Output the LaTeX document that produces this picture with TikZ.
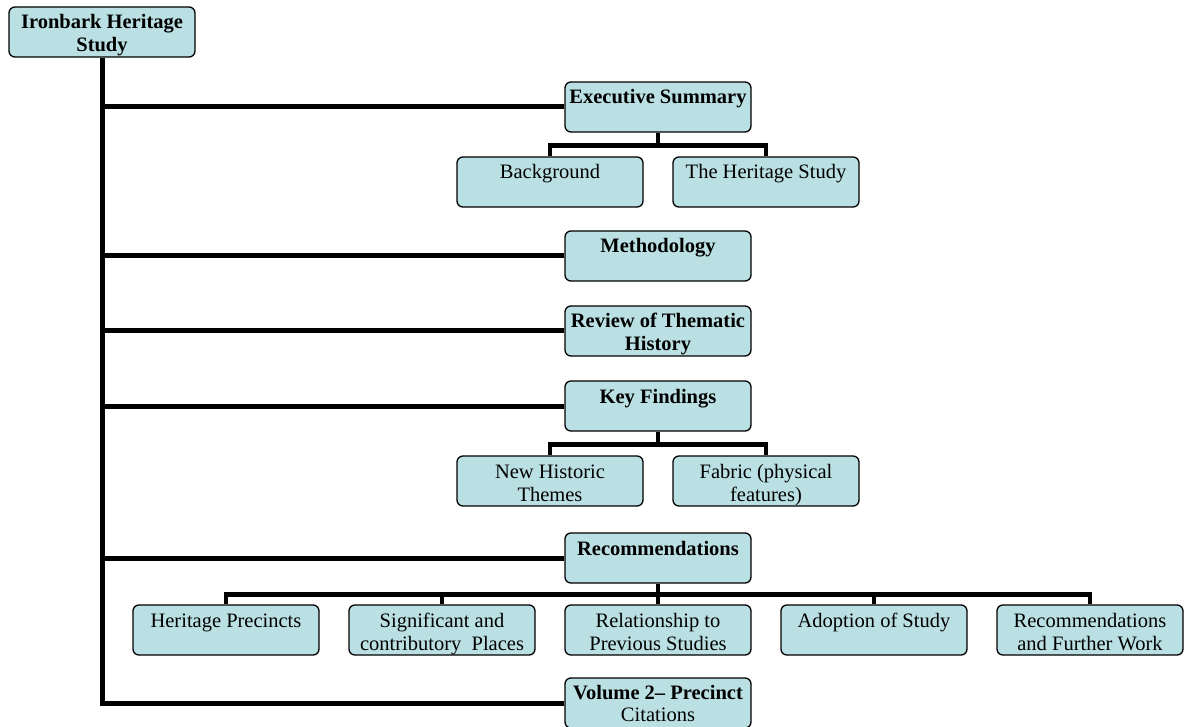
\documentclass[tikz,border=0pt]{standalone}
\usepackage{fontspec}
\setmainfont{Liberation Serif}
\usetikzlibrary{positioning}

\definecolor{boxfill}{RGB}{187,224,227}
% fixed-size box contents, text hangs from the top
\newcommand{\boxtext}[1]{\parbox[t][50pt][t]{186pt}{\centering\rule{0pt}{22pt}#1}}

\tikzset{
    part/.style={draw, fill=boxfill, rounded corners=6pt, line width=1.3pt,
        inner sep=0pt, font=\fontsize{20.5}{23}\selectfont},
    head/.style={part, font=\fontsize{20.5}{23}\selectfont\bfseries},
    trunk/.style={line width=5pt},
    twig/.style={line width=4.5pt}
}

\begin{document}
\begin{tikzpicture}[x=1pt,y=-1pt]
    \useasboundingbox (0,0) rectangle (1184,727);

    \node[head] (root) at (102,32) {\boxtext{Ironbark Heritage\\Study}};

    % main column
    \node[head] (exec)   at (658,107) {\boxtext{Executive Summary}};
    \node[head] (meth)   at (658,256) {\boxtext{Methodology}};
    \node[head] (review) at (658,331) {\boxtext{Review of Thematic\\History}};
    \node[head] (keyf)   at (658,406) {\boxtext{Key Findings}};
    \node[head] (recs)   at (658,558) {\boxtext{Recommendations}};
    \node[part] (vol)    at (658,703) {\parbox[t][50pt][t]{186pt}{\centering\rule{0pt}{21pt}{\bfseries Volume 2– Precinct}\\[-1pt]Citations}};

    \begin{scope}[on grid]
        \node[part, below left=75pt and 108pt of exec]  (backg) {\boxtext{Background}};
        \node[part, below right=75pt and 108pt of exec] (hstudy) {\boxtext{The Heritage Study}};
        \node[part, below left=75pt and 108pt of keyf]  (themes) {\boxtext{New Historic\\Themes}};
        \node[part, below right=75pt and 108pt of keyf] (fabric) {\boxtext{Fabric (physical\\features)}};

        \node[part, below=72pt of recs]      (relprev) {\boxtext{Relationship to\\Previous Studies}};
        \node[part, left=216pt of relprev]   (signif)  {\boxtext{Significant and\\contributory\ \ Places}};
        \node[part, left=216pt of signif]    (precin)  {\boxtext{Heritage Precincts}};
        \node[part, right=216pt of relprev]  (adopt)   {\boxtext{Adoption of Study}};
        \node[part, right=216pt of adopt]    (further) {\boxtext{Recommendations\\and Further Work}};
    \end{scope}

    % trunk and branches
    \draw[trunk] (root.south) -- (root.south |- vol.west) -- (vol.west);
    \foreach \n in {exec,meth,review,keyf,recs}
        \draw[trunk] (root.south |- \n.west) -- (\n.west);

    \foreach \c in {backg,hstudy}
        \draw[twig] (exec.south) -- ++(0,13) -| (\c.north);
    \foreach \c in {themes,fabric}
        \draw[twig] (keyf.south) -- ++(0,13) -| (\c.north);
    \foreach \c in {precin,signif,relprev,adopt,further}
        \draw[twig] (recs.south) -- ++(0,11) -| (\c.north);
\end{tikzpicture}
\end{document}
